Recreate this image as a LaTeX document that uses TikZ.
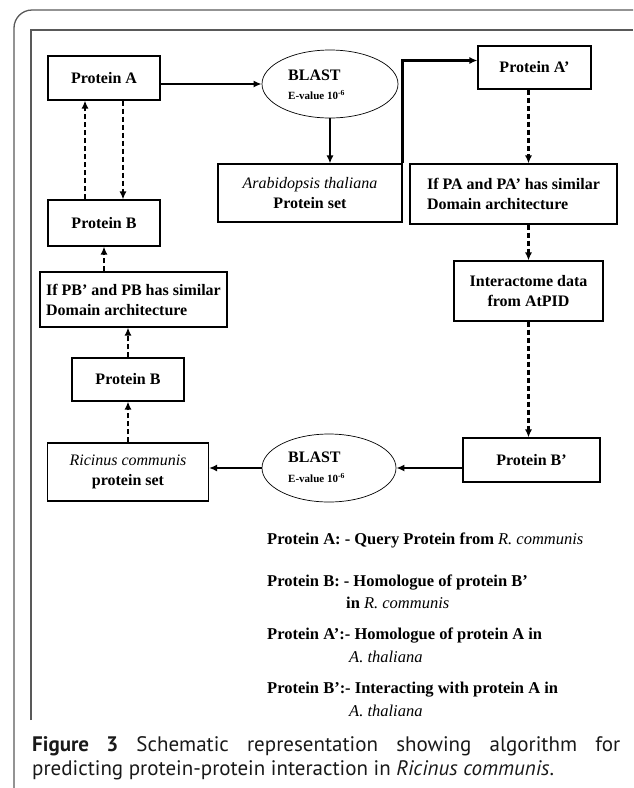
\documentclass[tikz,border=0pt]{standalone}
\usepackage{fontspec}
\setmainfont{Liberation Serif}
\newfontfamily\capfont{PT Sans}
\usetikzlibrary{arrows.meta,shapes.geometric,calc}
\hyphenpenalty=10000
\exhyphenpenalty=10000
\begin{document}
\begin{tikzpicture}[x=1pt,y=-1pt,
  box/.style={draw, line width=1.1pt, inner sep=0pt, font=\fontsize{16}{20}\selectfont\bfseries, align=center},
  lbox/.style={draw, line width=1.1pt, inner sep=0pt, font=\fontsize{16}{20}\selectfont\bfseries, align=left},
  blast/.style={draw, ellipse, line width=0.7pt, inner sep=0pt},
  solidarrow/.style={line width=2.2pt, -{Latex[length=8pt,width=7pt]}},
  dasharrow/.style={line width=2.2pt, dash pattern=on 5pt off 3pt, -{Latex[length=8pt,width=7pt]}},
  legend/.style={anchor=west, inner sep=0pt, font=\fontsize{16.5}{20}\selectfont\bfseries},
  capt/.style={anchor=west, inner sep=0pt, font=\capfont\fontsize{21}{24}\selectfont, text=black!90},
  frame/.style={draw=black!65, line width=1.3pt}]
\useasboundingbox (0,0) rectangle (633,788);
% frames
\draw[frame, rounded corners=18pt] (14,788) -- (14,10) -- (633,10);
\draw[frame] (31,720) -- (31,30) -- (633,30);
% nodes
\node[box, minimum width=112pt, minimum height=44pt] (pa) at (104,78) {Protein A};
\node[blast, minimum width=136pt, minimum height=68pt] (bl1) at (330,84) {};
\node[anchor=west, inner sep=0pt, font=\fontsize{16}{19}\selectfont\bfseries] (bl1a) at (288,75) {BLAST};
\node[anchor=west, inner sep=0pt, font=\fontsize{11}{13}\selectfont\bfseries] (bl1b) at (288,95) {E-value 10\textsuperscript{-6}};
\node[box, minimum width=184pt, minimum height=58pt] (arab) at (310,193) {{\normalfont\itshape Arabidopsis thaliana}\\Protein set};
\node[box, minimum width=113pt, minimum height=43pt] (pa2) at (534.5,67.5) {Protein A’};
\node[lbox, minimum width=207pt, minimum height=60pt] (ifpa) at (513.5,194) {If PA and PA’ has similar\\Domain architecture};
\node[box, minimum width=149pt, minimum height=60pt] (inter) at (528.5,291) {Interactome data\\from AtPID};
\node[box, minimum width=137pt, minimum height=44pt] (pb2) at (531.5,460) {Protein B’};
\node[blast, minimum width=134pt, minimum height=68pt] (bl2) at (329,468) {};
\node[anchor=west, inner sep=0pt, font=\fontsize{16}{19}\selectfont\bfseries] (bl2a) at (288,457) {BLAST};
\node[anchor=west, inner sep=0pt, font=\fontsize{11}{13}\selectfont\bfseries] (bl2b) at (288,478) {E-value 10\textsuperscript{-6}};
\node[box, minimum width=161pt, minimum height=58pt] (ric) at (128,472) {{\normalfont\itshape Ricinus communis}\\protein set};
\node[box, minimum width=112pt, minimum height=43pt] (pbl) at (128,379.5) {Protein B};
\node[lbox, minimum width=187pt, minimum height=55pt] (ifpb) at (133.5,299.5) {If PB’ and PB has similar\\Domain architecture};
\node[box, minimum width=112pt, minimum height=46pt] (pbu) at (104,223) {Protein B};
% connectors
\draw[solidarrow] (pa.east |- bl1) -- (bl1.west);
\draw[solidarrow] (bl1.south) -- (bl1.south |- arab.north);
\draw[solidarrow] (arab.north east) |- ([yshift=7pt]pa2.west);
\draw[dasharrow] (pa2.south -| inter.north) -- (ifpa.north -| inter.north);
\draw[dasharrow] (ifpa.south -| inter.north) -- (inter.north);
\draw[dasharrow] (inter.south) -- (pb2.north -| inter.south);
\draw[solidarrow] (pb2.west |- bl2) -- (bl2.east);
\draw[solidarrow] (bl2.west) -- (ric.east |- bl2);
\draw[dasharrow] (ric.north) -- (pbl.south);
\draw[dasharrow] (pbl.north) -- (pbl.north |- ifpb.south);
\draw[dasharrow] (ifpb.north -| pbu.south) -- (pbu.south);
\draw[dasharrow] ([xshift=-19pt]pbu.north) -- ([xshift=-19pt]pa.south);
\draw[dasharrow] ([xshift=19pt]pa.south) -- ([xshift=19pt]pbu.north);
% legend
\node[legend] (l1) at (267,540) {Protein A: - Query Protein from {\normalfont\itshape R. communis}};
\node[legend] (l2) at (267,583) {Protein B: - Homologue of protein B’};
\node[legend] (l3) at (346,603) {in {\normalfont\itshape R. communis}};
\node[legend] (l4) at (267,636) {Protein A’:- Homologue of protein A in};
\node[legend] (l5) at (349,657) {{\normalfont\itshape A. thaliana}};
\node[legend] (l6) at (267,690) {Protein B’:- Interacting with protein A in};
\node[legend] (l7) at (349,711) {{\normalfont\itshape A. thaliana}};
% caption
\node[capt] (cap1) at (32,746) {\makebox[588pt][s]{\textbf{Figure 3} Schematic representation showing algorithm for}};
\node[capt] (cap2) at (32,770) {predicting protein-protein interaction in \textit{Ricinus communis}.};
\end{tikzpicture}
\end{document}
